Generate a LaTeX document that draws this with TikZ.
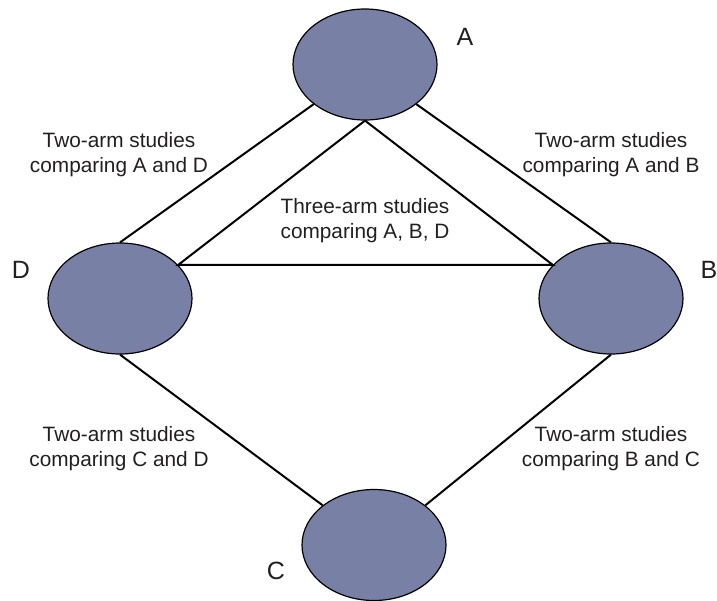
\documentclass[tikz,border=0pt]{standalone}
\usepackage{fontspec}
\setmainfont{Liberation Sans}
\usepackage{tikz}
\usetikzlibrary{shapes.geometric}

\definecolor{armfill}{RGB}{120,128,166}
\definecolor{armtext}{RGB}{35,31,32}

\begin{document}
\begin{tikzpicture}[x=0.5pt,y=-0.5pt]

\tikzstyle{armnode} = [ellipse, draw=black, line width=0.6pt, fill=armfill, minimum width=72pt, minimum height=55.5pt, inner sep=0pt]
\tikzstyle{armlink} = [draw=black, line width=1pt]
\tikzstyle{letter} = [font=\fontsize{12.5}{14}\selectfont, text=armtext]
\tikzstyle{texto} = [align=center, inner sep=0pt, font=\fontsize{10.4}{12.5}\selectfont, text=armtext]

\useasboundingbox (0,0) rectangle (717,600);

% treatments
\node (A) [armnode] at (365,64.5) {};
\node (D) [armnode] at (120,298.5) {};
\node (B) [armnode] at (611,298.5) {};
\node (C) [armnode] at (374,545) {};

\node (la) [letter] at (465,37) {A};
\node (ld) [letter] at (21,270) {D};
\node (lb) [letter] at (709,270) {B};
\node (lc) [letter] at (276,571) {C};

% two-arm comparisons
\path[armlink] (A.south west) -- (D.north);
\path[armlink] (A.south east) -- (B.north);
\path[armlink] (D.south) -- (C.north west);
\path[armlink] (B.south) -- (C.north east);

% three-arm comparison
\path[armlink] (A.south) -- (D.30) -- (B.150) -- (A.south);

\node (tad) [texto] at (119,155) {Two-arm studies\\comparing A and D};
\node (tab) [texto] at (611,155) {Two-arm studies\\comparing A and B};
\node (tabd) [texto] at (365,221) {Three-arm studies\\comparing A, B, D};
\node (tcd) [texto] at (119,449) {Two-arm studies\\comparing C and D};
\node (tbc) [texto] at (611,449) {Two-arm studies\\comparing B and C};

\end{tikzpicture}
\end{document}
